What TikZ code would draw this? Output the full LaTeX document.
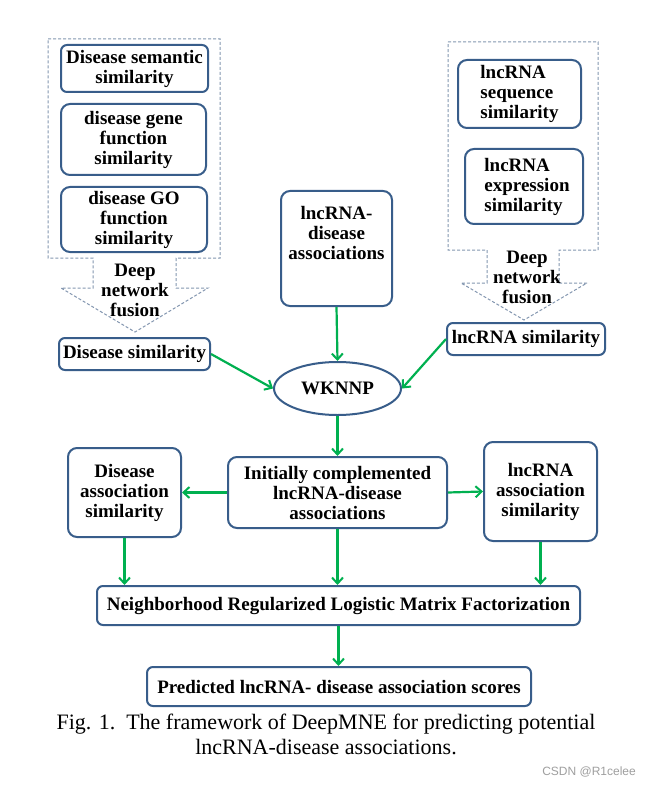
\documentclass[tikz,border=0pt]{standalone}
\usepackage{fontspec}
\setmainfont{Liberation Serif}
\newfontfamily\wmfont{Liberation Sans}
\usetikzlibrary{arrows.meta,shapes.geometric}
\definecolor{boxblue}{RGB}{56,93,138}
\definecolor{arrgreen}{RGB}{0,176,80}
\definecolor{dashgray}{RGB}{132,151,176}
\tikzset{
  boxnode/.style={draw=boxblue, line width=2pt, rounded corners=9pt, align=center, inner sep=0pt,
    font=\fontsize{19}{20}\selectfont\bfseries},
  smallbox/.style={boxnode, rounded corners=6pt},
  txtnode/.style={align=center, inner sep=0pt, font=\fontsize{19}{20}\selectfont\bfseries},
  flow/.style={draw=arrgreen, line width=2.2pt, -{Straight Barb[length=6pt,width=11pt,line width=2pt]}},
  fusionline/.style={draw=dashgray, line width=1pt, dash pattern=on 3pt off 2pt}
}
\begin{document}
\begin{tikzpicture}[x=1pt,y=-1pt]
\useasboundingbox (0,0) rectangle (649,786);
\fill[white] (0,0) rectangle (649,786);

% dashed fusion outlines
\draw[fusionline] (48,39) -- (220,39) -- (220,258) -- (176,258) -- (176,288) -- (208,288) -- (135,332)
  -- (61,288) -- (93,288) -- (93,258) -- (48,258) -- cycle;
\draw[fusionline] (448,42) -- (598,42) -- (598,250) -- (559,250) -- (559,283) -- (587,283) -- (524,320)
  -- (461,283) -- (487,283) -- (487,250) -- (448,250) -- cycle;

% left column
\node[smallbox, minimum width=147pt, minimum height=47pt] (dsem) at (134.5,68.5) {Disease semantic\\similarity};
\node[boxnode, minimum width=145pt, minimum height=71pt] (dgene) at (133.5,139.5) {disease gene\\function\\similarity};
\node[boxnode, minimum width=146pt, minimum height=65pt] (dgo) at (134,219.5) {disease GO\\function\\similarity};
\node[txtnode] (dfus) at (135,290) {Deep\\network\\fusion};
\node[smallbox, minimum width=151pt, minimum height=32pt] (dsim) at (134.5,354) {Disease similarity};

% right column
\node[boxnode, minimum width=123pt, minimum height=68pt, align=left] (lseq) at (519.5,94) {lncRNA\\sequence\\similarity};
\node[boxnode, minimum width=118pt, minimum height=75pt, align=left] (lexp) at (524,186.5) {\hspace*{6pt}lncRNA\\\hspace*{6pt}expression\\\hspace*{6pt}similarity};
\node[txtnode] (lfus) at (527,277.5) {Deep\\network\\fusion};
\node[smallbox, minimum width=158pt, minimum height=32pt] (lsim) at (526,339) {lncRNA similarity};

% middle
\node[boxnode, minimum width=111pt, minimum height=115pt] (assoc) at (336.5,248.5) {};
\node[txtnode] (assoctxt) at (336.5,233) {lncRNA-\\disease\\associations};
\node[draw=boxblue, line width=2pt, ellipse, minimum width=127pt, minimum height=53pt, inner sep=0pt,
  font=\fontsize{19}{20}\selectfont\bfseries] (wknnp) at (337.5,388.5) {WKNNP};

\node[boxnode, minimum width=219pt, minimum height=71pt] (init) at (337.5,492.5) {Initially complemented\\lncRNA-disease\\associations};
\node[boxnode, minimum width=113pt, minimum height=89pt] (dassoc) at (124.5,492.5) {Disease\\association\\similarity};
\node[boxnode, minimum width=113pt, minimum height=99pt] (lassoc) at (540.5,491.5) {lncRNA\\association\\similarity};
\node[smallbox, minimum width=483pt, minimum height=39pt] (nrlmf) at (338.5,605.5) {Neighborhood Regularized Logistic Matrix Factorization};
\node[smallbox, minimum width=384pt, minimum height=39pt] (pred) at (339,686.5) {Predicted lncRNA- disease association scores};

% connectors
\draw[flow] (assoc.south) -- (wknnp.north);
\draw[flow] (dsim.east) -- (wknnp.west);
\draw[flow] (lsim.west) -- (wknnp.east);
\draw[flow] (wknnp.south) -- (init.north);
\draw[flow] (init.west) -- (dassoc.east);
\draw[flow] (init.east) -- (lassoc.west);
\draw[flow] (dassoc.south) -- (dassoc.south |- nrlmf.north);
\draw[flow] (init.south) -- (init.south |- nrlmf.north);
\draw[flow] (lassoc.south) -- (lassoc.south |- nrlmf.north);
\draw[flow] (nrlmf.south) -- (nrlmf.south |- pred.north);

% caption
\node[align=center, inner sep=0pt, font=\fontsize{22}{25}\selectfont] (cap) at (326,734.5)
  {Fig. 1.\ \ The framework of DeepMNE for predicting potential\\lncRNA-disease associations.};
\node[inner sep=0pt, text=gray!75, font=\wmfont\fontsize{12}{12}\selectfont, anchor=east] (wm) at (636,772) {CSDN @R1celee};
\end{tikzpicture}
\end{document}
